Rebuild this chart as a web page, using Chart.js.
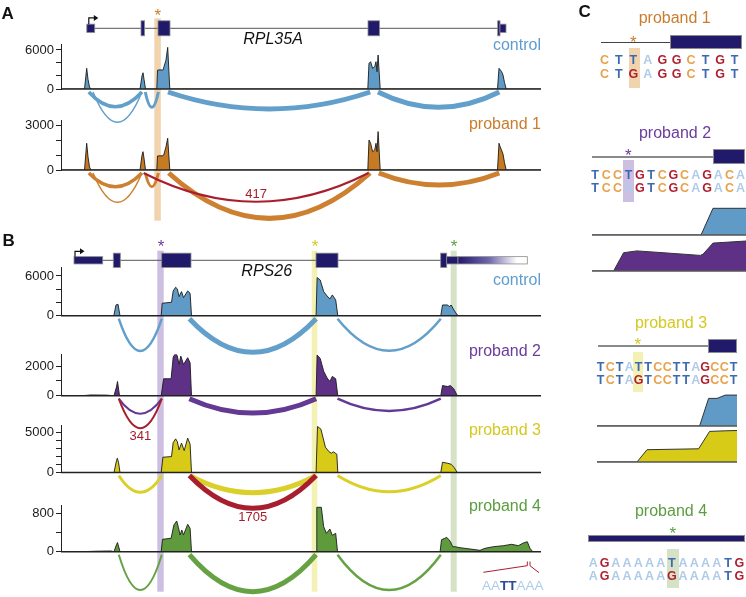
<!DOCTYPE html>
<html>
<head>
<meta charset="utf-8">
<script src="https://cdn.jsdelivr.net/npm/chart.js@4.4.1/dist/chart.umd.min.js"></script>
<style>
  html, body { margin: 0; padding: 0; background: #fff; }
  #page { position: relative; width: 746px; height: 597px; overflow: hidden;
          font-family: "Liberation Sans", Arial, sans-serif; }
  #page canvas { position: absolute; }
  .t { position: absolute; white-space: nowrap; }
  .box { position: absolute; }
</style>
</head>
<body>
<div id="page"></div>
<script>
// ---------------------------------------------------------------
// Data. Positions are relative transcript coordinates (0-480),
// shared by every sashimi track of panels A and B.
// ---------------------------------------------------------------

// gene models: [start, end, kind]
const rpl35aExons = [[25.8, 33.7, 'utr'], [80, 83.6, 'cds'], [97, 109, 'cds'], [307, 318.5, 'cds'], [436.7, 439, 'cds'], [439, 445, 'utr']];
const rps26Exons  = [[13, 41.7, 'utr'], [52.3, 59.3, 'cds'], [100.7, 130, 'cds'], [255, 277, 'cds'], [379.7, 385.7, 'cds'], [385.7, 397, 'utr'], [397, 466.3, 'fade']];
const rpl35aIntronSpan = [25.8, 444.5];
const rps26IntronSpan  = [13, 385.7];
const rpl35aTss = 27.8;
const rps26Tss  = 14;

// variant sites (highlight columns)
const rpl35aVariants = [[93.3, 99.8]];
const rps26Variants  = [[96.3, 102.7], [250.7, 256.3], [389.7, 395.7]];

// read coverage: [position, reads]
const covRpl35aControl = [[0,0],[23.5,0],[25.7,3180],[27,1500],[28.5,300],[30,0],[79,0],[81,2000],[82,2500],[83,1500],[84.5,0],[95.8,0],[96.5,2900],[99,2950],[102,2900],[103,3430],[105,4460],[106.7,6400],[108.8,0],[306.8,0],[308,3950],[309.6,4200],[311.6,3180],[313.7,3430],[315,4200],[316,2660],[317.1,5230],[319.2,0],[436.5,0],[438,3180],[439,3000],[440.5,2700],[442,2150],[443.5,1000],[445.2,0],[480,0]];
const covRpl35aProband1 = [[0,0],[23.5,0],[25.7,1810],[27,900],[28.5,200],[30,0],[79,0],[81,1000],[82,1240],[83,800],[84.5,0],[95.8,0],[96.5,950],[99,960],[102,960],[103,1080],[105,1580],[106.7,2150],[108.8,0],[306.8,0],[308,2030],[309.6,1810],[311.6,1240],[313.7,1350],[315,1810],[316,1240],[317.1,2600],[319.2,0],[436.5,0],[438,1810],[439,1600],[440.5,1350],[442,1080],[443.5,500],[445.2,0],[480,0]];

const covRps26Control  = [[0,0],[52.8,0],[55,1620],[57,1730],[59,0],[100.2,0],[101.2,1880],[110.5,2030],[112.2,3740],[114.6,4300],[116.3,4050],[118.1,2880],[120.5,3640],[122.5,2730],[126.7,3740],[129.1,3390],[130.5,0],[255.1,0],[256.1,5760],[259.2,5400],[262.7,3640],[266.1,2980],[268.9,2530],[271.3,3140],[274.7,2380],[276.8,0],[379.8,0],[381.5,1620],[386.7,1620],[388.4,1360],[390.1,1620],[392.9,860],[396.3,100],[398,0],[480,0]];
const covRps26Proband2 = [[0,0],[21,0],[30,50],[45,40],[53,0],[55.5,600],[56.5,965],[58.5,0],[100.2,0],[102.6,1150],[110.1,1150],[112.2,2620],[114.6,2880],[116.3,2690],[118.1,2120],[119.8,2690],[122.5,2120],[126.7,2580],[129.1,2230],[130.5,0],[255.1,0],[256.1,2760],[259.2,2530],[262.7,1660],[266.1,1200],[268.9,970],[271.3,1310],[274.7,1150],[276.8,0],[379.8,0],[381.5,690],[386.7,620],[389.4,690],[392.9,460],[396.3,0],[480,0]];
const covRps26Proband3 = [[0,0],[53,0],[55.5,1500],[56.3,1790],[57.5,1300],[59,0],[100.2,0],[101.9,1920],[110.5,2000],[112.2,3760],[114.6,4230],[116.3,3890],[118.1,2840],[120.5,3690],[123.2,2750],[126.7,4320],[129.1,3560],[130.5,0],[255.1,0],[256.5,5780],[259.9,5450],[264.4,3180],[267.9,2630],[270.3,2420],[272.3,2600],[275.8,2300],[276.8,0],[379.8,0],[381.5,1290],[386.7,1160],[390.1,1040],[392.9,660],[396.3,0],[480,0]];
const covRps26Proband4 = [[0,0],[20,0],[35,10],[50,15],[53,0],[55.5,150],[56.5,190],[58,80],[59,0],[100.2,0],[101.5,258],[110.1,280],[112.9,556],[115.7,640],[117.4,508],[119.1,348],[120.8,452],[122.5,350],[126.7,571],[129.1,487],[130.5,0],[255.1,0],[255.8,925],[260.3,925],[262.7,521],[265.4,383],[268.9,473],[271.3,340],[274.7,383],[276.5,0],[379.1,0],[380.5,250],[383.9,280],[385.7,300],[387.5,260],[389.4,210],[391.7,104],[394,104],[399,83],[409,56],[419,28],[424,70],[432.3,104],[442.3,125],[450.7,154],[457.3,125],[462.3,181],[466.3,208],[469,70],[471.7,0],[480,0]];

// y-axis ticks (first and last are labelled)
const yTicksRpl35aControl  = [0, 2000, 4000, 6000];
const yTicksRpl35aProband1 = [0, 1000, 2000, 3000];
const yTicksRps26Control   = [0, 2000, 4000, 6000];
const yTicksRps26Proband2  = [0, 1000, 2000];
const yTicksRps26Proband3  = [0, 1000, 2000, 3000, 4000, 5000];
const yTicksRps26Proband4  = [0, 400, 800];

// splice junctions: [donor, acceptor, reads (only the aberrant ones are labelled)]
const juncRpl35aControl  = [[27.8, 80.9], [32, 80.9], [84.3, 97.4], [107, 309.2], [317, 438.3]];
const juncRpl35aProband1 = [[27.8, 80.9], [32, 80.9], [84.3, 97.4], [107.7, 309], [317.8, 438.3], [82.6, 307.5, 417]];
const juncRps26Control   = [[57.8, 100.8], [128.4, 255.1], [276.5, 379.8]];
const juncRps26Proband2  = [[57.8, 100.8], [128.4, 255.1], [276.5, 379.8], [57.8, 100.8, 341]];
const juncRps26Proband3  = [[57.8, 100.8], [128.4, 255.1], [276.5, 379.8], [128.4, 255.1, 1705]];
const juncRps26Proband4  = [[57.8, 100.8], [128.4, 255.1], [276.5, 379.8]];

// panel C
const seqProband1 = ['CTTAGGCTGT', 'CTGAGGCTGT'];
const seqProband2 = ['TCCTGTCGCAGACA', 'TCCAGTCGCAGACA'];
const seqProband3 = ['TCTATTCCTTAGCCT', 'TCTAGTCCTTAGCCT'];
const seqProband4 = ['AGAAAAATAAAATG', 'AGAAAAAGAAAATG'];
// zoomed coverage at the variant (relative position, % of max)
const zoomP2Control = [[0,0],[109,0],[121,89],[154.3,89]];
const zoomP2Proband = [[0,0],[21.6,0],[31.6,61],[45,67],[75,60],[108.3,52],[111,56],[121,93],[154.3,100]];
const zoomP3Control = [[0,0],[102.6,0],[111.6,92],[120,92],[128.3,103],[140,103]];
const zoomP3Proband = [[0,0],[40,0],[50,41],[101.6,44],[112.6,102],[128.3,104],[140,105]];

// ---------------------------------------------------------------
// Styles
// ---------------------------------------------------------------
const NAVY = '#21196a';
const RED = '#a81e2e';
const FILL = { control: '#5f9bc6', p1: '#c67a22', p2: '#5e3186', p3: '#d7cb18', p4: '#5f9a3d' };
const ARC  = { control: '#629fca', p1: '#cc8030', p2: '#643994', p3: '#dbd02a', p4: '#66a244' };
const TEXT = { control: '#5e9dcf', p1: '#c97d2c', p2: '#6b3c9a', p3: '#d5c920', p4: '#5b9d3f' };
const BAND = { p1: '#f1d4ae', p2: '#cdbfe2', p3: '#f4f1b4', p4: '#d5e2c6' };
const BASE = { A: '#aecbea', C: '#e8a24c', G: '#b01e2e', T: '#3b6ab2' };

// arc line width, depth below baseline, label offset (px)
const arcStyleRpl35aControl  = [[3.5, 17.7], [1.5, 33.3], [3, 18.3], [5, 20], [5, 18.3]];
const arcStyleRpl35aProband1 = [[3.5, 16.7], [1.5, 32.3], [3, 16.7], [5, 48.3], [5, 15], [2, 31.7, 24]];
const arcStyleRps26Control   = [[2.5, 35.3], [5, 36.6], [2.5, 35]];
const arcStyleRps26Proband2  = [[2, 18], [5, 17.3], [2.5, 15.3], [2, 32.6, 41]];
const arcStyleRps26Proband3  = [[3, 19.8], [5, 20.2], [3, 19.2], [5, 35.8, 44.8]];
const arcStyleRps26Proband4  = [[2, 38.3], [5, 40], [2.5, 38.3]];

const page = document.getElementById('page');
const FONT = '"Liberation Sans", Arial, sans-serif';

function addCanvas(id, left, top, w, h) {
  const c = document.createElement('canvas');
  c.id = id;
  c.width = w; c.height = h;
  c.style.left = left + 'px'; c.style.top = top + 'px';
  c.style.width = w + 'px'; c.style.height = h + 'px';
  page.appendChild(c);
  return c;
}

function addText(txt, o) {
  const d = document.createElement('div');
  d.className = 't';
  d.textContent = txt;
  const f = o.size || 16;
  d.style.fontSize = f + 'px';
  d.style.lineHeight = f + 'px';
  d.style.top = (o.baseline - 0.8465 * f) + 'px';
  if (o.right != null) { d.style.right = (746 - o.right) + 'px'; d.style.textAlign = 'right'; }
  else if (o.center != null) { d.style.left = (o.center - 50) + 'px'; d.style.width = '100px'; d.style.textAlign = 'center'; }
  else d.style.left = o.left + 'px';
  d.style.color = o.color || '#111';
  if (o.bold) d.style.fontWeight = 'bold';
  if (o.italic) d.style.fontStyle = 'italic';
  page.appendChild(d);
  return d;
}

function addBox(x0, y0, x1, y1, color, border) {
  const d = document.createElement('div');
  d.className = 'box';
  d.style.left = x0 + 'px'; d.style.top = y0 + 'px';
  d.style.width = (x1 - x0) + 'px'; d.style.height = (y1 - y0) + 'px';
  d.style.background = color;
  if (border) { d.style.boxSizing = 'border-box'; d.style.border = '1px solid ' + border; }
  page.appendChild(d);
}

// ---------------------------------------------------------------
// Sashimi plugin: variant columns, gene model, baseline and junction arcs
// ---------------------------------------------------------------
const trackById = {};

function drawGene(ctx, x, g, top) {
  const px = v => x.getPixelForValue(v);
  const cy = g.y - top;
  ctx.save();
  ctx.strokeStyle = '#555';
  ctx.lineWidth = 1;
  ctx.beginPath();
  ctx.moveTo(px(g.span[0]), cy);
  ctx.lineTo(px(g.span[1]), cy);
  ctx.stroke();
  g.exons.forEach(([s, e, kind]) => {
    const h = kind === 'cds' ? g.cdsH : g.utrH;
    const x0 = px(s), x1 = px(e);
    if (kind === 'fade') {
      const gr = ctx.createLinearGradient(x0, 0, x1, 0);
      gr.addColorStop(0, NAVY);
      gr.addColorStop(0.45, '#7068ad');
      gr.addColorStop(0.85, '#ffffff');
      gr.addColorStop(1, '#ffffff');
      ctx.fillStyle = gr;
    } else {
      ctx.fillStyle = NAVY;
    }
    ctx.fillRect(x0, cy - h / 2, x1 - x0, h);
    ctx.strokeStyle = '#8c8c8c';
    ctx.lineWidth = 0.8;
    ctx.strokeRect(x0, cy - h / 2, x1 - x0, h);
  });
  // transcription start arrow
  const ax = px(g.tss), ay = cy - g.utrH / 2;
  const tip = ax + 9.5;
  ctx.strokeStyle = '#111';
  ctx.lineWidth = 1.2;
  ctx.beginPath();
  ctx.moveTo(ax, ay);
  ctx.lineTo(ax, g.arrowY - top);
  ctx.lineTo(tip - 3, g.arrowY - top);
  ctx.stroke();
  ctx.fillStyle = '#111';
  ctx.beginPath();
  ctx.moveTo(tip, g.arrowY - top);
  ctx.lineTo(tip - 4.5, g.arrowY - top - 3);
  ctx.lineTo(tip - 4.5, g.arrowY - top + 3);
  ctx.closePath();
  ctx.fill();
  ctx.restore();
}

const sashimiPlugin = {
  id: 'sashimi',
  beforeDatasetsDraw(chart) {
    const t = trackById[chart.canvas.id];
    const { ctx, scales: { x } } = chart;
    ctx.save();
    t.variants.forEach((v, i) => {
      const x0 = x.getPixelForValue(v[0]), x1 = x.getPixelForValue(v[1]);
      ctx.fillStyle = t.bandColors[i];
      ctx.fillRect(x0, t.bandY[0] - t.top, x1 - x0, t.bandY[1] - t.bandY[0]);
    });
    ctx.restore();
    if (t.gene) drawGene(ctx, x, t.gene, t.top);
  },
  afterDatasetsDraw(chart) {
    const t = trackById[chart.canvas.id];
    const { ctx, chartArea, scales: { x, y } } = chart;
    const y0 = y.getPixelForValue(0);
    ctx.save();
    // baseline
    ctx.strokeStyle = '#222';
    ctx.lineWidth = 1.5;
    ctx.beginPath();
    ctx.moveTo(chartArea.left, y0);
    ctx.lineTo(chartArea.right, y0);
    ctx.stroke();
    // junction arcs
    ctx.lineCap = 'butt';
    t.junc.forEach((j, i) => {
      const s = t.arcStyle[i];
      const a = x.getPixelForValue(j[0]), b = x.getPixelForValue(j[1]);
      const start = y0 + 3, bottom = y0 + s[1];
      const aberrant = j.length > 2;
      ctx.strokeStyle = aberrant ? RED : t.arcColor;
      ctx.lineWidth = s[0];
      ctx.beginPath();
      ctx.moveTo(a, start);
      ctx.quadraticCurveTo((a + b) / 2, 2 * bottom - start, b, start);
      ctx.stroke();
      if (aberrant) {
        ctx.fillStyle = RED;
        ctx.font = '13px ' + FONT;
        ctx.textAlign = 'center';
        ctx.textBaseline = 'middle';
        ctx.fillText(String(j[2]), (a + b) / 2, y0 + s[2]);
      }
    });
    if (t.extra) t.extra(ctx, x, t.top);
    ctx.restore();
  }
};

function sashimiTrack(t) {
  trackById[t.id] = t;
  const c = addCanvas(t.id, 0, t.top, 560, t.height);
  const labelled = [t.yTicks[0], t.yTicks[t.yTicks.length - 1]];
  new Chart(c, {
    type: 'line',
    data: {
      datasets: [{
        data: t.cov.map(([px, v]) => ({ x: px, y: v })),
        fill: 'origin',
        backgroundColor: t.fill,
        borderColor: '#1b1b1b',
        borderWidth: 0.9,
        pointRadius: 0,
        tension: 0,
      }],
    },
    options: {
      responsive: false,
      animation: false,
      devicePixelRatio: 1,
      layout: { padding: { top: t.areaTop - t.top, bottom: t.top + t.height - t.base, left: 0, right: 19 } },
      plugins: { legend: { display: false }, tooltip: { enabled: false } },
      scales: {
        x: { type: 'linear', min: 0, max: 480, display: false },
        y: {
          min: 0,
          max: t.yMax,
          afterFit: (axis) => { axis.width = 61; },
          afterBuildTicks: (axis) => { axis.ticks = t.yTicks.map(v => ({ value: v })); },
          ticks: {
            autoSkip: false,
            callback: (v) => (labelled.includes(v) ? String(v) : ''),
            color: '#1a1a1a',
            font: { family: FONT, size: 13 },
            padding: 2,
          },
          grid: { drawOnChartArea: false, drawTicks: true, tickLength: 5, tickColor: '#222', color: '#222' },
          border: { display: true, color: '#222', width: 1 },
        },
      },
    },
    plugins: [sashimiPlugin],
  });
}

const geneA = { exons: rpl35aExons, span: rpl35aIntronSpan, tss: rpl35aTss, y: 28.3, cdsH: 15, utrH: 8.3, arrowY: 17.9 };
const geneB = { exons: rps26Exons, span: rps26IntronSpan, tss: rps26Tss, y: 260.3, cdsH: 14.3, utrH: 7.3, arrowY: 251.3 };
const bandsA = [BAND.p1];
const bandsB = [BAND.p2, BAND.p3, BAND.p4];

// poly(A) signal annotation under proband 4
function polyA(ctx, x, top) {
  ctx.strokeStyle = RED;
  ctx.lineWidth = 1;
  ctx.beginPath();
  ctx.moveTo(x.getPixelForValue(422.3), 572.3 - top);
  ctx.lineTo(x.getPixelForValue(466.3), 565.7 - top);
  ctx.moveTo(x.getPixelForValue(469), 565.7 - top);
  ctx.lineTo(x.getPixelForValue(478), 572.7 - top);
  ctx.moveTo(x.getPixelForValue(466.3), 561.5 - top);
  ctx.lineTo(x.getPixelForValue(466.3), 565.7 - top);
  ctx.moveTo(x.getPixelForValue(469), 561.5 - top);
  ctx.lineTo(x.getPixelForValue(469), 565.7 - top);
  ctx.stroke();
}

sashimiTrack({ id: 'a0', top: 0, height: 126, areaTop: 44, base: 89, cov: covRpl35aControl, fill: FILL.control,
  yMax: 6920, yTicks: yTicksRpl35aControl, junc: juncRpl35aControl, arcStyle: arcStyleRpl35aControl, arcColor: ARC.control,
  variants: rpl35aVariants, bandColors: bandsA, bandY: [18.3, 108], gene: geneA });
sashimiTrack({ id: 'a1', top: 108, height: 122, areaTop: 120.6, base: 170, cov: covRpl35aProband1, fill: FILL.p1,
  yMax: 3345, yTicks: yTicksRpl35aProband1, junc: juncRpl35aProband1, arcStyle: arcStyleRpl35aProband1, arcColor: ARC.p1,
  variants: rpl35aVariants, bandColors: bandsA, bandY: [108, 220.7] });
sashimiTrack({ id: 'b0', top: 230, height: 130, areaTop: 267, base: 315.7, cov: covRps26Control, fill: FILL.control,
  yMax: 7360, yTicks: yTicksRps26Control, junc: juncRps26Control, arcStyle: arcStyleRps26Control, arcColor: ARC.control,
  variants: rps26Variants, bandColors: bandsB, bandY: [250.7, 342], gene: geneB });
sashimiTrack({ id: 'b1', top: 342, height: 103, areaTop: 354.3, base: 395.7, cov: covRps26Proband2, fill: FILL.p2,
  yMax: 2810, yTicks: yTicksRps26Proband2, junc: juncRps26Proband2, arcStyle: arcStyleRps26Proband2, arcColor: ARC.p2,
  variants: rps26Variants, bandColors: bandsB, bandY: [342, 413] });
sashimiTrack({ id: 'b2', top: 413, height: 117, areaTop: 425, base: 472.5, cov: covRps26Proband3, fill: FILL.p3,
  yMax: 5970, yTicks: yTicksRps26Proband3, junc: juncRps26Proband3, arcStyle: arcStyleRps26Proband3, arcColor: ARC.p3,
  variants: rps26Variants, bandColors: bandsB, bandY: [413, 493] });
sashimiTrack({ id: 'b3', top: 493, height: 104, areaTop: 505, base: 551.7, cov: covRps26Proband4, fill: FILL.p4,
  yMax: 973, yTicks: yTicksRps26Proband4, junc: juncRps26Proband4, arcStyle: arcStyleRps26Proband4, arcColor: ARC.p4,
  variants: rps26Variants, bandColors: bandsB, bandY: [493, 591.7], extra: polyA });

// ---------------------------------------------------------------
// Panel C: zoomed coverage at the variant
// ---------------------------------------------------------------
const miniBase = {
  id: 'miniBase',
  afterDatasetsDraw(chart) {
    const { ctx, chartArea, scales: { y } } = chart;
    ctx.save();
    ctx.strokeStyle = '#555';
    ctx.lineWidth = 1.5;
    ctx.beginPath();
    ctx.moveTo(chartArea.left, y.getPixelForValue(0));
    ctx.lineTo(chartArea.right, y.getPixelForValue(0));
    ctx.stroke();
    ctx.restore();
  }
};

function miniChart(id, left, top, span, pts, color) {
  const c = addCanvas(id, left, top, span, 37);
  new Chart(c, {
    type: 'line',
    data: { datasets: [{ data: pts.map(([px, v]) => ({ x: px, y: v })), fill: 'origin', backgroundColor: color,
      borderColor: '#333', borderWidth: 1, pointRadius: 0, tension: 0 }] },
    options: {
      responsive: false, animation: false, devicePixelRatio: 1,
      layout: { padding: { top: 2, bottom: 2, left: 0, right: 0 } },
      plugins: { legend: { display: false }, tooltip: { enabled: false } },
      scales: { x: { type: 'linear', min: 0, max: span, display: false }, y: { min: 0, max: 110, display: false } },
    },
    plugins: [miniBase],
  });
}

// highlight boxes behind the sequences
addBox(628.7, 48.3, 640, 88.3, BAND.p1);
addBox(622.7, 160, 634, 201.7, BAND.p2);
addBox(632.7, 351.7, 643.3, 391.7, BAND.p3);
addBox(667.3, 549.3, 678.7, 588.3, BAND.p4);

// exon / intron schematics
addBox(600.7, 42.2, 670, 43.4, '#444');
addBox(670, 35, 741.7, 49.3, NAVY, '#8c8c8c');
addBox(591.7, 156, 713.3, 157.5, '#8a8a8a');
addBox(713.3, 149.3, 745, 164, NAVY, '#8c8c8c');
addBox(598.3, 345.3, 708.3, 346.8, '#8a8a8a');
addBox(708.3, 339.3, 737.3, 352.7, NAVY, '#8c8c8c');
addBox(588.3, 534.5, 745, 542, NAVY, '#8c8c8c');

miniChart('c2a', 592, 200, 154, zoomP2Control, FILL.control);
miniChart('c2b', 592, 236, 154, zoomP2Proband, FILL.p2);
miniChart('c3a', 597, 391, 140, zoomP3Control, FILL.control);
miniChart('c3b', 597, 427, 140, zoomP3Proband, FILL.p3);

function addSequence(rows, firstX, step, baselines) {
  rows.forEach((seq, r) => {
    [...seq].forEach((b, i) => {
      addText(b, { center: firstX + i * step, baseline: baselines[r], size: 12.5, bold: true, color: BASE[b] });
    });
  });
}
addSequence(seqProband1, 604.5, 14.44, [65, 78.2]);
addSequence(seqProband2, 595, 11.2, [179.3, 192.7]);
addSequence(seqProband3, 600.7, 9.5, [371.7, 385]);
addSequence(seqProband4, 593.3, 11.23, [567.3, 580.7]);

// ---------------------------------------------------------------
// Text
// ---------------------------------------------------------------
addText('A', { left: 1.5, baseline: 18.9, size: 17, bold: true });
addText('B', { left: 2.5, baseline: 246.4, size: 17, bold: true });
addText('C', { left: 578.5, baseline: 17.6, size: 17, bold: true });

addText('RPL35A', { center: 273, baseline: 45, size: 16, italic: true });
addText('RPS26', { center: 266.7, baseline: 277, size: 16, italic: true });

addText('control', { right: 541, baseline: 50.7, color: TEXT.control });
addText('proband 1', { right: 541, baseline: 129.3, color: TEXT.p1 });
addText('control', { right: 541, baseline: 285.7, color: TEXT.control });
addText('proband 2', { right: 541, baseline: 356.9, color: TEXT.p2 });
addText('proband 3', { right: 541, baseline: 436, color: TEXT.p3 });
addText('proband 4', { right: 541, baseline: 511.7, color: TEXT.p4 });

addText('proband 1', { center: 674.7, baseline: 24, color: TEXT.p1 });
addText('proband 2', { center: 675, baseline: 139, color: TEXT.p2 });
addText('proband 3', { center: 671, baseline: 328.5, color: TEXT.p3 });
addText('proband 4', { center: 671, baseline: 517, color: TEXT.p4 });

// variant asterisks
function star(cx, cy, color) { addText('*', { center: cx, baseline: cy + 9.7, size: 17, color }); }
star(157.7, 12, TEXT.p1);
star(161, 243, TEXT.p2);
star(315, 243, TEXT.p3);
star(454, 243, TEXT.p4);
star(633.3, 38.3, TEXT.p1);
star(628.3, 151.7, TEXT.p2);
star(637.7, 340.7, TEXT.p3);
star(672.7, 529.3, TEXT.p4);

// poly(A) signal sequence
const pa = document.createElement('div');
pa.className = 't';
pa.style.left = '482px';
pa.style.top = (590 - 0.8465 * 13.5) + 'px';
pa.style.fontSize = '13.5px';
pa.style.lineHeight = '13.5px';
pa.innerHTML = '<span style="color:' + BASE.A + '">AA</span><span style="color:#2c4a9a;font-weight:bold">TT</span><span style="color:' + BASE.A + '">AAA</span>';
page.appendChild(pa);
</script>
</body>
</html>
